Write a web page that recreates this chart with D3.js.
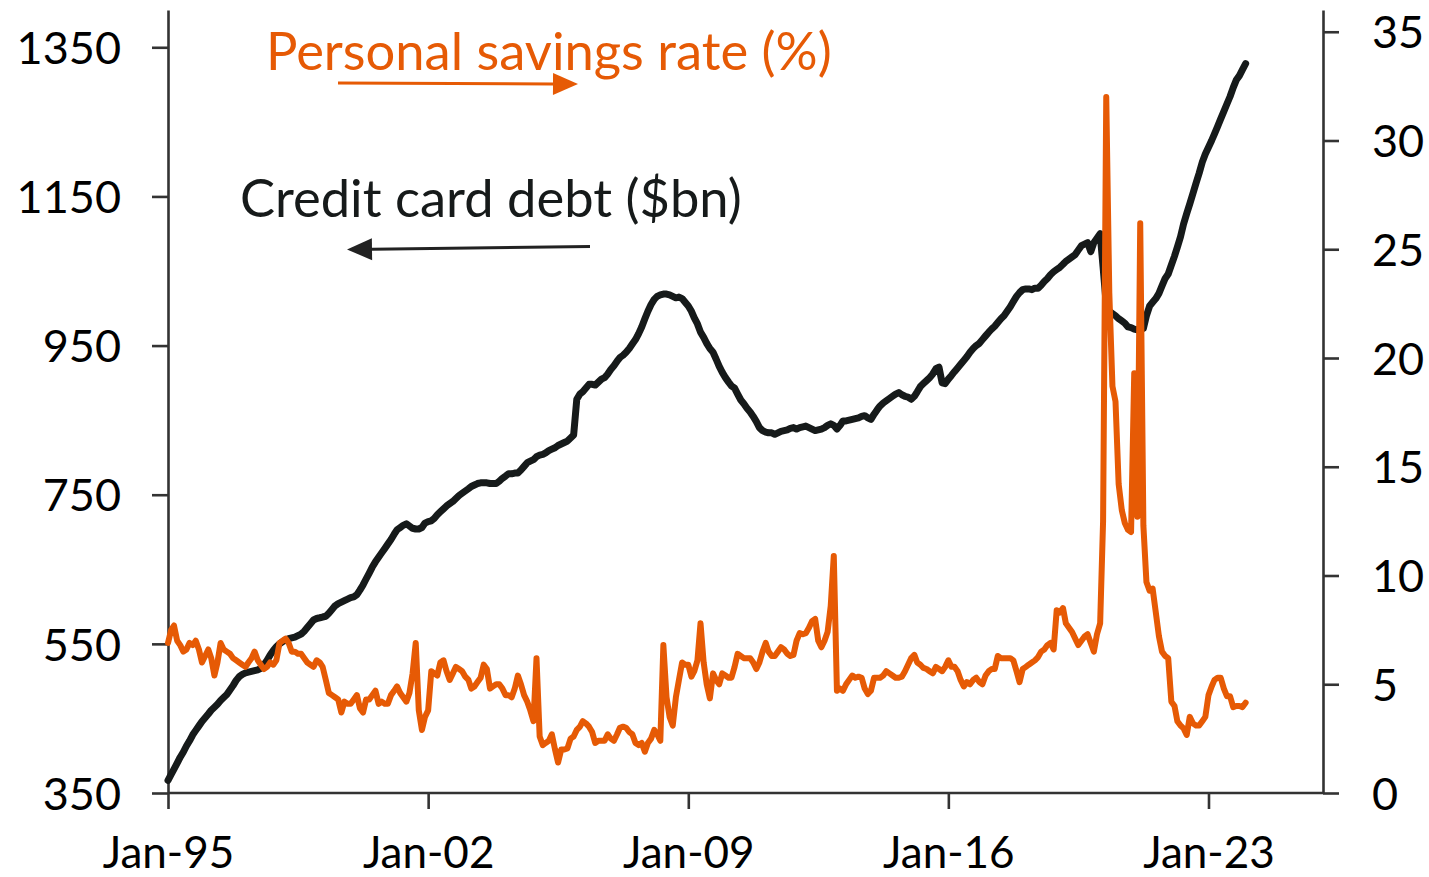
<!DOCTYPE html>
<html><head><meta charset="utf-8">
<script src="https://cdn.jsdelivr.net/npm/d3@7"></script>
<style>
body{margin:0;background:#fff;}
svg{display:block;font-family:Lato,"Open Sans",sans-serif;}
</style>
</head><body>
<svg id="chart" width="1429" height="877"></svg>
<script>
// Monthly series starting Jan 1995
const startDate = new Date(1995, 0, 1);

// Revolving credit card debt, $bn (left axis)
const creditCardDebt = [
  367, 375, 382, 390, 398, 405, 413, 420, 428, 434, 440, 446,
  451, 456, 461, 465, 469, 474, 478, 482, 488, 494, 501, 506,
  509, 511, 512, 513, 514, 515, 517, 522, 528, 535, 541, 546,
  550, 553, 555, 557, 558, 559, 561, 563, 567, 572, 577, 582,
  584, 585, 586, 587, 591, 596, 601, 604, 606, 608, 610, 612,
  613, 616, 622, 629, 637, 645, 653, 660, 666, 672, 678, 684,
  690, 697, 703, 706, 709, 711, 708, 705, 704, 704, 706, 712,
  714, 715, 718, 723, 727, 731, 735, 738, 741, 745, 749, 752,
  755, 758, 761, 763, 765, 766, 766, 766, 765, 765, 765, 768,
  772, 775, 778, 778, 779, 779, 783, 788, 793, 795, 797, 801,
  803, 804, 806, 809, 811, 813, 816, 818, 820, 822, 826, 830,
  878, 885, 888, 893, 898, 898, 897, 901, 905, 907, 912, 918,
  923, 929, 934, 937, 941, 946, 952, 958, 966, 975, 986, 996,
  1005, 1012, 1016, 1018, 1019, 1019, 1018, 1016, 1014, 1015, 1013, 1008,
  1003, 996, 987, 979, 968, 961, 953, 946, 941, 932, 922, 914,
  907, 901, 896, 893, 885, 877, 872, 866, 861, 855, 848, 840,
  836, 834, 833, 833, 831, 833, 835, 836, 837, 839, 840, 838,
  840, 841, 842, 840, 838, 836, 837, 838, 840, 843, 845, 843,
  838, 843, 849, 849, 850, 851, 852, 853, 855, 856, 853, 851,
  858, 864, 869, 873, 876, 879, 882, 885, 887, 884, 882, 881,
  878, 882, 888, 895, 899, 903, 907, 912, 919, 921, 900, 899,
  905, 910, 915, 920, 925, 930, 935, 941, 946, 950, 953, 958,
  963, 968, 972, 976, 981, 986, 990, 996, 1002, 1009, 1016, 1021,
  1025, 1026, 1026, 1025, 1027, 1027, 1031, 1036, 1040, 1045, 1049, 1052,
  1055, 1059, 1063, 1066, 1069, 1072, 1078, 1084, 1086, 1088, 1076, 1088,
  1094, 1100, 1055, 1005, 996, 993, 990, 986, 983, 980, 975, 974,
  972, 971, 971, 973, 990, 1003, 1008, 1013, 1020, 1030, 1040, 1046,
  1058, 1070, 1082, 1096, 1113, 1127, 1140, 1154, 1168, 1181, 1196, 1207,
  1216, 1225, 1234, 1244, 1254, 1264, 1274, 1284, 1296, 1306, 1312, 1320,
  1328
];

// Personal savings rate, % (right axis)
const savingsRate = [
  6.9, 7.5, 7.7, 7.0, 6.8, 6.5, 6.6, 6.9, 6.8, 7.0, 6.6, 6.0,
  6.3, 6.6, 6.2, 5.4, 6.0, 6.9, 6.6, 6.5, 6.4, 6.2, 6.1, 6.0,
  5.9, 5.8, 6.0, 6.2, 6.5, 6.1, 5.9, 5.7, 5.8, 6.0, 5.9, 6.1,
  6.9, 7.0, 7.1, 6.9, 6.5, 6.5, 6.4, 6.4, 6.2, 6.0, 5.9, 5.8,
  6.1, 6.0, 5.8, 5.2, 4.6, 4.5, 4.4, 4.3, 3.7, 4.2, 4.1, 4.1,
  4.3, 4.5, 3.9, 3.7, 4.3, 4.3, 4.5, 4.7, 4.1, 4.2, 4.1, 4.1,
  4.5, 4.7, 4.9, 4.6, 4.4, 4.2, 4.6, 5.5, 6.9, 3.8, 2.9, 3.5,
  3.8, 5.6, 5.5, 5.4, 6.0, 6.1, 5.6, 5.2, 5.5, 5.8, 5.7, 5.6,
  5.35, 5.2, 4.8, 4.9, 5.1, 5.3, 5.9, 5.7, 4.8, 4.9, 5.0, 5.0,
  4.8, 4.5, 4.5, 4.4, 4.8, 5.4, 5.0, 4.5, 4.2, 3.8, 3.3, 6.2,
  2.6, 2.2, 2.3, 2.4, 2.7, 2.0, 1.4, 2.0, 2.0, 2.05, 2.5, 2.6,
  2.9, 3.05, 3.3, 3.2, 3.05, 2.8, 2.3, 2.4, 2.4, 2.4, 2.7, 2.5,
  2.4, 2.7, 3.0, 3.05, 3.0, 2.8, 2.7, 2.3, 2.2, 2.3, 1.9, 2.3,
  2.5, 2.9, 2.7, 2.4, 6.8, 4.4, 3.5, 3.1, 4.4, 5.2, 6.0, 5.9,
  5.9, 5.35, 5.6, 6.1, 7.8, 6.0, 5.0, 4.35, 5.5, 5.2, 5.0, 5.5,
  5.4, 5.3, 5.3, 5.8, 6.4, 6.3, 6.2, 6.2, 6.2, 6.0, 5.7, 6.0,
  6.5, 6.9, 6.5, 6.3, 6.3, 6.5, 6.7, 6.6, 6.4, 6.3, 6.35, 7.0,
  7.35, 7.3, 7.35, 7.6, 7.9, 8.0, 7.0, 6.7, 7.0, 7.4, 8.6, 10.9,
  4.7, 4.8, 4.7, 5.0, 5.2, 5.4, 5.3, 5.35, 5.3, 4.8, 4.55, 4.7,
  5.3, 5.3, 5.3, 5.4, 5.6, 5.5, 5.4, 5.3, 5.3, 5.35, 5.6, 5.9,
  6.2, 6.35, 6.0, 5.9, 5.75, 5.7, 5.6, 5.5, 5.8, 5.7, 5.6, 5.8,
  6.1, 5.8, 5.8, 5.6, 5.2, 4.9, 5.1, 5.0, 5.2, 5.3, 5.1, 5.0,
  5.4, 5.6, 5.7, 5.7, 6.3, 6.2, 6.2, 6.2, 6.2, 6.1, 5.6, 5.1,
  5.7, 5.8, 5.9, 6.0, 6.1, 6.25, 6.5, 6.6, 6.8, 6.9, 6.6, 8.4,
  8.3, 8.5, 7.8, 7.6, 7.4, 7.1, 6.8, 7.0, 7.2, 7.3, 6.9, 6.5,
  7.3, 7.8, 12.5, 32.0, 23.0, 18.7, 18.0, 14.2, 13.0, 12.4, 12.1, 12.0,
  19.3, 12.7, 26.2, 12.3, 9.7, 9.3, 9.4, 8.3, 7.2, 6.5, 6.3, 6.2,
  4.2, 4.0, 3.3, 3.1, 2.97, 2.67, 3.5, 3.2, 3.1, 3.1, 3.3, 3.5,
  4.5, 4.9, 5.2, 5.3, 5.3, 4.8, 4.45, 4.45, 3.95, 4.0, 4.0, 3.95,
  4.15
];

const leftTicks = [350, 550, 750, 950, 1150, 1350];
const rightTicks = [0, 5, 10, 15, 20, 25, 30, 35];
const xTickDates = [new Date(1995,0,1), new Date(2002,0,1), new Date(2009,0,1), new Date(2016,0,1), new Date(2023,0,1)];
const xTickLabels = ["Jan-95", "Jan-02", "Jan-09", "Jan-16", "Jan-23"];
const debtLabel = "Credit card debt ($bn)";
const savingsLabel = "Personal savings rate (%)";

const ORANGE = "#e65a05";
const BLACK = "#161a1a";
const AXIS = "#333333";

const svg = d3.select("#chart");
const pLeft = 168, pRight = 1323, pTop = 10, pBottom = 793;

const x = d3.scaleTime().domain([new Date(1995,0,1), new Date(2026,0,1)]).range([pLeft, 1320]);
const yL = d3.scaleLinear().domain([350, 1400]).range([pBottom, pTop]);
const yR = d3.scaleLinear().domain([0, 36]).range([pBottom, pTop]);

const dates = creditCardDebt.map((_, i) => d3.timeMonth.offset(startDate, i));

// axes
const fontSize = 45;
const axL = svg.append("g").attr("transform", `translate(${pLeft},0)`)
  .call(d3.axisLeft(yL).tickValues(leftTicks).tickFormat(d3.format("d")).tickSize(16).tickSizeOuter(0).tickPadding(31));
const axR = svg.append("g").attr("transform", `translate(${pRight},0)`)
  .call(d3.axisRight(yR).tickValues(rightTicks).tickFormat(d3.format("d")).tickSize(16).tickSizeOuter(0).tickPadding(33));
const axB = svg.append("g").attr("transform", `translate(0,${pBottom})`)
  .call(d3.axisBottom(x).tickValues(xTickDates).tickFormat((d, i) => xTickLabels[i]).tickSize(16).tickSizeOuter(0));
axB.select(".domain").remove();
svg.append("line").attr("x1", pLeft).attr("x2", pRight).attr("y1", pBottom).attr("y2", pBottom)
  .attr("stroke", AXIS).attr("stroke-width", 2.6);

[axL, axR, axB].forEach(g => {
  g.selectAll(".domain, .tick line").attr("stroke", AXIS).attr("stroke-width", 2.6);
  g.selectAll("text").attr("font-size", fontSize).attr("font-family", "Lato").attr("fill", "#000");
});
axB.selectAll("text").attr("font-size", 44).attr("y", 75).attr("dy", 0);
axL.selectAll("text").attr("dy", "0.36em");
axR.selectAll("text").attr("dy", "0.36em");

// lines
const debtLine = d3.line().x((d, i) => x(dates[i])).y(d => yL(d));
const saveLine = d3.line().x((d, i) => x(dates[i])).y(d => yR(d));

svg.append("path").datum(creditCardDebt).attr("d", debtLine)
  .attr("fill", "none").attr("stroke", BLACK).attr("stroke-width", 7)
  .attr("stroke-linejoin", "round").attr("stroke-linecap", "round");
svg.append("path").datum(savingsRate).attr("d", saveLine)
  .attr("fill", "none").attr("stroke", ORANGE).attr("stroke-width", 6)
  .attr("stroke-linejoin", "round").attr("stroke-linecap", "round");

// labels
svg.append("text").attr("x", 266).attr("y", 70).attr("font-size", 52.5)
  .attr("fill", ORANGE).text(savingsLabel);
svg.append("text").attr("x", 240).attr("y", 217).attr("font-size", 52.5)
  .attr("fill", BLACK).text(debtLabel);

// arrows
function arrow(x1, y1, x2, y2, color) {
  const ang = Math.atan2(y2 - y1, x2 - x1);
  const hl = 25, hw = 11;
  const bx = x2 - hl * Math.cos(ang), by = y2 - hl * Math.sin(ang);
  svg.append("line").attr("x1", x1).attr("y1", y1).attr("x2", bx).attr("y2", by)
    .attr("stroke", color).attr("stroke-width", 3);
  const px = -Math.sin(ang) * hw, py = Math.cos(ang) * hw;
  svg.append("path")
    .attr("d", `M${x2},${y2}L${bx + px},${by + py}L${bx - px},${by - py}Z`)
    .attr("fill", color);
}
arrow(338, 83, 578, 84, ORANGE);
arrow(590, 246.5, 347, 249.5, "#222");
</script>
</body></html>
